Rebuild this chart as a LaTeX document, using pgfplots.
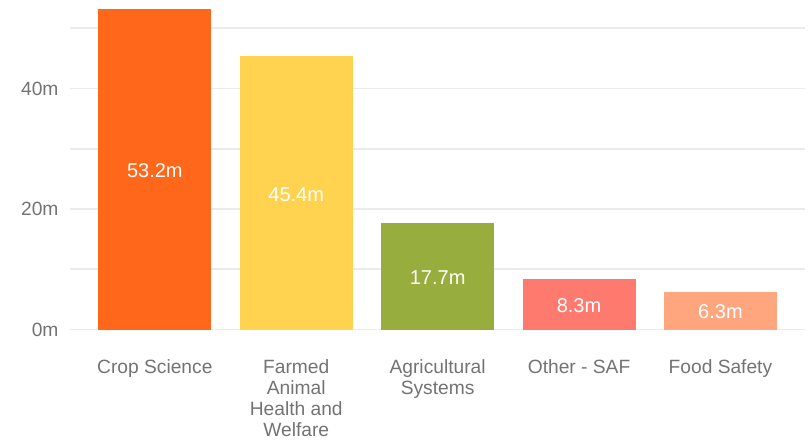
\documentclass[border=0pt]{standalone}
\usepackage{fontspec}
\setmainfont{Liberation Sans}
\usepackage{pgfplots}
\pgfplotsset{compat=1.18}
\definecolor{c1}{HTML}{FF671B}
\definecolor{c2}{HTML}{FFD24F}
\definecolor{c3}{HTML}{97AD3E}
\definecolor{c4}{HTML}{FF7A6E}
\definecolor{c5}{HTML}{FFA67F}
\definecolor{gridc}{HTML}{EBEBEB}
\definecolor{txt}{HTML}{737373}
\begin{document}
\begin{tikzpicture}
\path[use as bounding box] (-70bp,-110.5bp) rectangle (740bp,329.5bp);
\begin{axis}[
  at={(0,0)}, anchor=south west,
  x=141.4bp, y=6.025bp,
  xmin=-0.6, xmax=4.6, ymin=0, ymax=54.5,
  axis line style={draw=none},
  tick style={draw=none},
  ymajorgrids, yminorgrids,
  major grid style={draw=gridc, line width=1.6bp},
  minor grid style={draw=gridc, line width=1.6bp},
  ytick={0,20,40}, yticklabels={0m,20m,40m},
  minor ytick={10,30,50},
  xtick={0,1,2,3,4},
  xticklabels={Crop Science,{Farmed\\Animal\\Health and\\Welfare},{Agricultural\\Systems},Other - SAF,Food Safety},
  xticklabel style={align=center, font=\fontsize{19.2bp}{21bp}\selectfont, text=txt, yshift=-22bp},
  yticklabel style={font=\fontsize{19.2bp}{21bp}\selectfont, text=txt, xshift=-8bp},
  ybar, bar width=113bp, bar shift=0pt,
  /pgf/number format/assume math mode=true,
  nodes near coords={\pgfmathprintnumber[fixed,precision=1,fixed zerofill,assume math mode=true]{\pgfplotspointmeta}m},
  visualization depends on=rawy \as \ry,
  nodes near coords style={anchor=center, yshift={-\ry*3.0125bp-1.5bp}, font=\fontsize{20bp}{22bp}\selectfont, text=white},
]
\addplot[fill=c1, draw=none] coordinates {(0,53.2)};
\addplot[fill=c2, draw=none] coordinates {(1,45.4)};
\addplot[fill=c3, draw=none] coordinates {(2,17.7)};
\addplot[fill=c4, draw=none] coordinates {(3,8.3)};
\addplot[fill=c5, draw=none] coordinates {(4,6.3)};
\end{axis}
\end{tikzpicture}
\end{document}
